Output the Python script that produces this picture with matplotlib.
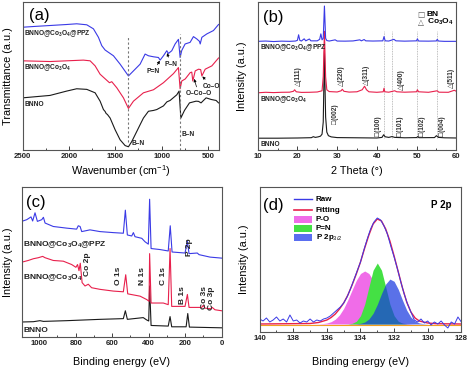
import matplotlib
matplotlib.use("Agg")
import matplotlib.pyplot as plt
from matplotlib.patches import Rectangle

plt.rcParams['font.family'] = ['Liberation Sans', 'DejaVu Sans']
plt.rcParams['mathtext.fontset'] = 'custom'
plt.rcParams['mathtext.rm'] = 'Liberation Sans'
plt.rcParams['mathtext.bf'] = 'Liberation Sans:bold'
plt.rcParams['mathtext.it'] = 'Liberation Sans:italic'

# ---------------- (a) FTIR ----------------
ir_blue_x = [2500, 2385, 2205, 2025, 1917, 1808, 1736, 1682, 1646, 1610, 1520, 1448, 1358, 1304, 1232,
             1178, 1142, 1088, 1034, 1016, 980, 944, 926, 890, 854, 818, 800, 782, 746, 692, 656,
             620, 591, 583, 565, 511, 440, 385]
ir_blue_y = [124, 124.7, 125.7, 126.7, 127.4, 126.4, 122.4, 114, 105.7, 101.4, 95.7, 87.4, 75.7, 80.7, 87.4,
             97.4, 95.7, 94.7, 94, 91.4, 95.7, 100.7, 98, 100.7, 107.4, 112, 94, 101, 107.4, 109, 114.7,
             112.4, 110, 107.4, 114, 117.4, 120.7, 126.7]
ir_red_x = [2500, 2205, 2025, 1845, 1772, 1718, 1664, 1592, 1563, 1538, 1484, 1412, 1358, 1304, 1196,
            1088, 980, 872, 818, 800, 782, 745, 691, 674, 663, 649, 637, 601, 578, 565, 529, 457, 385]
ir_red_y = [90.7, 90, 90.7, 91.4, 90.7, 85.7, 77.4, 71.4, 69, 70, 64, 54, 43.5, 50.7, 59,
            62, 69, 78, 84, 63, 70.7, 72.7, 79, 79.5, 70.7, 76, 80.7, 82.4, 82, 75.7, 82.4, 85.7, 93.5]
ir_black_x = [2500, 2205, 2025, 1917, 1808, 1718, 1664, 1628, 1610, 1599, 1585, 1556, 1502, 1448, 1394,
              1358, 1322, 1268, 1232, 1196, 1142, 1088, 1052, 980, 943, 908, 836, 811, 792, 753,
              699, 628, 601, 574, 519, 465, 411, 385]
ir_black_y = [54, 56.4, 60.7, 63, 62.4, 59, 50.7, 42.4, 40.5, 38.5, 37.5, 34, 22.4, 12.4, 6.7,
              5.5, 10.7, 20.7, 27.4, 34, 40.7, 41.5, 42.4, 46, 50, 51.4, 57, 60.7, 34, 41.5,
              49, 50.7, 50.5, 49, 54, 52.4, 51.4, 49]
ir_lines = [1358, 800]

# ---------------- (b) XRD ----------------
xrd_blue_x = [10, 12, 14, 16, 18, 19.5, 20.0, 20.3, 20.6, 21.0, 21.7, 22.1, 23.0, 23.4, 25.0, 25.6, 25.9,
              26.2, 26.5, 26.8, 27.1, 27.4, 28, 29.5, 30, 32, 34, 35.7, 36.1, 36.8, 37.2, 39, 41.5, 41.8,
              42.1, 43, 44.3, 44.8, 47, 50.0, 50.2, 50.5, 53, 55.0, 55.2, 55.5, 57, 60]
xrd_blue_y = [110, 110.3, 109.8, 110.2, 110, 110.3, 111, 116.5, 111, 110.3, 112.5, 110.5, 112.3, 110.5, 110.5, 112, 117.4,
              111.5, 113, 145, 113, 110.8, 110.3, 111.5, 110.3, 110.2, 110.4, 111.5, 110.5, 111.8, 110.5, 110.3, 110.5, 114.7,
              110.5, 110.3, 112, 110.5, 110.2, 110.5, 112.5, 110.3, 110.2, 110.4, 112, 110.3, 110, 110]
xrd_red_x = [10, 12, 14, 16, 18, 19.0, 19.3, 19.7, 21, 23, 25, 26.2, 26.5, 26.8, 27.1, 27.4, 28, 30, 31.0,
             31.3, 31.7, 33, 35, 36.3, 36.9, 37.4, 38, 40, 41.6, 41.8, 42.0, 43, 44.5, 45, 47, 50.0, 50.2,
             50.5, 53, 55.2, 55.6, 58, 59.5, 60]
xrd_red_y = [59, 59.5, 59.2, 59.5, 59.6, 60.5, 62, 60, 59.4, 59.5, 59.8, 61, 75, 120, 75, 62, 60.2, 59.8, 61,
             62.5, 60.5, 59.7, 60, 62, 65.5, 62, 60, 59.5, 60, 63.5, 60, 59.6, 61, 60, 59.6, 60, 62,
             60, 59.5, 61, 59.6, 59.5, 61.5, 60.5]
xrd_black_x = [10, 15, 20, 23.5, 24.0, 24.5, 25.2, 25.8, 26.2, 26.5, 26.65, 26.8, 26.95, 27.1, 27.4, 27.8,
               28.5, 30, 35, 40, 41.3, 41.7, 42.1, 43.0, 43.8, 44.5, 47, 50.0, 50.3, 50.6, 54.5, 55.0, 55.5, 57, 60]
xrd_black_y = [14, 14, 14.2, 14.5, 15.5, 14.8, 15.3, 16, 18, 30, 65, 100, 65, 35, 20, 16.5,
               15.3, 14.6, 14.4, 14.2, 14.8, 17.4, 15.4, 14.8, 15.6, 14.8, 14.4, 14.6, 15.6, 14.5, 14.6, 16.5, 14.8, 14.4, 14.2]
xrd_lines = [41.8, 43.9, 50.2, 55.2]
co_labels = ['(111)', '(220)', '(311)', '(400)', '(511)']
co_pos = [20.3, 31.2, 37.5, 46.3, 58.7]
bn_labels = ['(002)', '(100)', '(101)', '(102)', '(004)']
bn_pos = [29.5, 40.5, 46.0, 51.5, 56.6]

# ---------------- (c) XPS survey ----------------
xps_blue_x = [1096, 1068, 1045, 1036, 1023, 1010, 986, 977, 968, 923, 850, 795, 786, 776, 767, 722, 667,
              594, 539, 528, 517, 493, 484, 475, 438, 420, 402, 395, 387, 338, 293, 282, 272, 201, 188,
              179, 134, 124, 64, 0]
xps_blue_y = [113.3, 115, 117.7, 113.7, 121.7, 113.3, 115, 117.3, 111.7, 108.3, 106.7, 105.7, 109, 108.3, 103.3, 105, 103.3,
              102.3, 101.7, 124.3, 100, 99, 102.3, 98.3, 96.7, 93.3, 91, 135, 86.7, 85.7, 84.3, 109, 83.3, 82.3, 94,
              81.7, 82.3, 80.7, 78.3, 77.3]
xps_red_x = [1096, 1060, 1032, 1005, 981, 968, 923, 868, 822, 799, 790, 782, 775, 765, 749, 731, 713, 667,
             594, 539, 526, 515, 447, 411, 398, 395, 387, 320, 293, 283, 274, 201, 188, 179, 110, 101, 92,
             61, 52, 37, 0]
xps_red_y = [73.3, 75, 76.7, 77.7, 79, 77.7, 75, 74.3, 71, 68.3, 71, 65, 72.3, 53.3, 50, 51.7, 48.3, 46.7,
             45, 44.3, 61, 42.3, 40, 36.7, 35, 81.7, 33.3, 33.3, 31.7, 86.7, 30, 30, 41.7, 29, 29, 31, 28.3,
             27.7, 29, 26.7, 25.7]
xps_black_x = [1096, 1032, 996, 977, 850, 667, 539, 528, 517, 430, 411, 400, 395, 387, 293, 283, 274, 195,
               186, 177, 0]
xps_black_y = [14.7, 15, 16, 15.3, 16, 17.3, 18, 25.7, 17.3, 19, 16.7, 15.7, 50, 11.3, 10.7, 20, 10, 10,
               23, 9.7, 9]
xps_peak_names = ['Co 2p', 'O 1s', 'N 1s', 'C 1s', 'P 2p', 'B 1s', 'Co 3s', 'Co 3p']
xps_peak_x = [736, 567, 435, 320, 174, 214, 92, 55]
xps_peak_y = [71, 60, 60, 60, 88.3, 41, 38.3, 37.7]

# ---------------- (d) P 2p ----------------
raw_x = [140.0, 139.8, 139.6, 139.4, 139.2, 139.0, 138.8, 138.6, 138.4, 138.2, 138.0, 137.8, 137.6, 137.4,
         137.2, 137.0, 136.8, 136.6, 136.4, 136.2, 136.0, 135.8, 135.6, 135.4, 135.2, 135.0, 134.8, 134.6,
         134.4, 134.2, 134.0, 133.8, 133.6, 133.4, 133.2, 133.0, 132.8, 132.6, 132.4, 132.2, 132.0, 131.8,
         131.6, 131.4, 131.2, 131.0, 130.8, 130.6, 130.4, 130.2, 130.0, 129.8, 129.6, 129.4, 129.2, 129.0,
         128.8, 128.6, 128.4, 128.2, 128.0]
raw_y = [5, 3, 6, 2, 4, 7, 3, 5, 2, 9, 3, 4, 1, 3,
         2, 5, 2, 4, 3, 5, 6, 8, 11, 14, 17, 21, 27, 35,
         44, 53, 62, 74, 85, 95, 102, 106, 104, 98, 90, 78, 67, 55,
         42, 30, 20, 12, 4, 2, 5, 1, 3, -1, 2, 0, 3, -1,
         -4, 2, 0, 7, 2]
fit_x = [140.0, 137.0, 136.5, 136.0, 135.75, 135.5, 135.25, 135.0, 134.75, 134.5, 134.25, 134.0, 133.75,
         133.5, 133.25, 133.0, 132.75, 132.5, 132.25, 132.0, 131.75, 131.5, 131.25, 131.0, 130.75, 130.5,
         130.0, 129.5, 128.0]
fit_y = [0, 0.5, 1.5, 4, 6.5, 10, 15, 21, 29, 39, 50, 62, 76,
         89, 100, 105, 103, 95, 83, 68, 52, 36, 22, 12, 6, 3,
         1, 0.3, 0]
comp_x = [137.0, 136.5, 136.25, 136.0, 135.75, 135.5, 135.25, 135.0, 134.75, 134.5, 134.25, 134.0, 133.75,
          133.5, 133.25, 133.0, 132.75, 132.5, 132.25, 132.0, 131.75, 131.5, 131.25, 131.0, 130.75, 130.5,
          130.25, 130.0]
po_y = [0, 0.15, 0.4, 1.0, 2.3, 4.8, 9.1, 15.6, 24.3, 34.1, 43.6, 50.5, 53,
        50.5, 43.6, 34.1, 24.3, 15.6, 9.1, 4.8, 2.3, 1.0, 0.4, 0.15, 0, 0,
        0, 0]
pn_y = [0, 0, 0, 0, 0, 0, 0, 0.02, 0.13, 0.68, 2.7, 8.3, 19.8,
        37, 53.8, 61, 53.8, 37, 19.8, 8.3, 2.7, 0.68, 0.13, 0, 0, 0,
        0, 0]
p2p_y = [0, 0, 0, 0, 0, 0, 0, 0, 0, 0.05, 0.2, 0.67, 2.0,
         5.0, 10.7, 19.6, 30.4, 40.0, 44.9, 42.7, 34.6, 23.8, 13.9, 6.9, 2.9, 1.05,
         0.32, 0.08]

BLUE = '#3a3ae6'
RED = '#e8204c'
BLACK = '#1a1a1a'
W, H = 474, 371
fig = plt.figure(figsize=(W / 100, H / 100), dpi=100)


def ax_at(l, t, r, b):
    return fig.add_axes([l / W, 1 - b / H, (r - l) / W, (b - t) / H])


def style(ax, xl, yl, xlab_y, ylab_x, l, t, r, b):
    ax.set_yticks([])
    for s in ax.spines.values():
        s.set_linewidth(0.8)
        s.set_color('#555555')
    ax.tick_params(axis='x', which='major', direction='in', length=3, width=0.6, pad=2.5,
                   labelsize=5.6, colors='#222222')
    ax.tick_params(axis='x', which='minor', direction='in', length=1.5, width=0.5)
    for lab in ax.get_xticklabels():
        lab.set_fontweight('bold')
    ax.set_xlabel(xl, fontsize=7.8)
    ax.set_ylabel(yl, fontsize=7.8)
    ax.xaxis.set_label_coords(0.5, (b - xlab_y) / (b - t))
    ax.xaxis.label.set_va('center')
    ax.yaxis.set_label_coords((ylab_x - l) / (r - l), 0.5)
    ax.yaxis.label.set_va('center')


small = dict(fontsize=4.8, fontweight='bold', color='#222222')

# ---- (a)
ax = ax_at(22.7, 2, 219, 150)
ax.plot(ir_black_x, ir_black_y, color=BLACK, lw=0.8)
ax.plot(ir_red_x, ir_red_y, color=RED, lw=0.8)
ax.plot(ir_blue_x, ir_blue_y, color=BLUE, lw=0.8)
ax.plot([ir_lines[0]] * 2, [10, 115], color='#777777', lw=0.8, ls=(0, (2, 2)))
ax.plot([ir_lines[1]] * 2, [2.3, 117], color='#777777', lw=0.8, ls=(0, (2, 2)))
ax.set_xlim(2500, 380)
ax.set_ylim(2.3, 149)
ax.set_xticks([2500, 2000, 1500, 1000, 500])
ax.set_xticks([2250, 1750, 1250, 750], minor=True)
ax.text(2485, 117.7, r'BNNO@Co$_\mathbf{3}$O$_\mathbf{4}$@PPZ', ha='left', va='center', **small)
ax.text(2485, 84, r'BNNO@Co$_\mathbf{3}$O$_\mathbf{4}$', ha='left', va='center', **small)
ax.text(2485, 47.7, 'BNNO', ha='left', va='center', **small)
arr = dict(arrowstyle='-|>', lw=0.5, color='k', mutation_scale=4, shrinkA=0.5, shrinkB=0.5)
ax.annotate('P=N', xy=(1016, 91.4), xytext=(1088, 80), ha='center', va='center', arrowprops=arr, **small)
ax.annotate('P–N', xy=(943, 99), xytext=(900, 87.4), ha='center', va='center', arrowprops=arr, **small)
ax.annotate('O–Co–O', xy=(650, 73.4), xytext=(601, 58), ha='center', va='center', arrowprops=arr, **small)
ax.annotate('Co–O', xy=(565, 75.7), xytext=(457, 65.7), ha='center', va='center', arrowprops=arr, **small)
ax.text(1250, 9, 'B–N', ha='center', va='center', **small)
ax.text(710, 17.4, 'B–N', ha='center', va='center', **small)
ax.text(2320, 135.7, '(a)', fontsize=12, ha='center', va='center')
style(ax, r'Wavenumber (cm$^{-1}$)', 'Transmittance (a.u.)', 171, 8, 22.7, 2, 219, 150)

# ---- (b)
ax = ax_at(257.7, 2, 456.3, 150)
for xv in xrd_lines:
    ax.plot([xv, xv], [14, 120], color='#aaaaaa', lw=0.6, ls=(0, (1, 1)))
ax.plot(xrd_black_x, xrd_black_y, color=BLACK, lw=0.8)
ax.plot(xrd_red_x, xrd_red_y, color=RED, lw=0.8)
ax.plot(xrd_blue_x, xrd_blue_y, color=BLUE, lw=0.8)
ax.set_xlim(10, 60)
ax.set_ylim(2.3, 149)
ax.set_xticks([10, 20, 30, 40, 50, 60])
ax.set_xticks([15, 25, 35, 45, 55], minor=True)
ax.text(10.6, 104, r'BNNO@Co$_\mathbf{3}$O$_\mathbf{4}$@PPZ', ha='left', va='center', **small)
ax.text(10.6, 52, r'BNNO@Co$_\mathbf{3}$O$_\mathbf{4}$', ha='left', va='center', **small)
ax.text(10.6, 8, 'BNNO', ha='left', va='center', **small)
co_h = [75.7, 75.7, 77, 72, 74]
for lab, xp, hp in zip(co_labels, co_pos, co_h):
    ax.text(xp, hp, '△' + lab, rotation=90, ha='center', va='center', fontsize=4.8,
            fontweight='bold', color='#333333', family=['Liberation Sans', 'DejaVu Sans'])
bn_h = [38, 26, 26, 26, 26]
for lab, xp, hp in zip(bn_labels, bn_pos, bn_h):
    ax.text(xp, hp, '□' + lab, rotation=90, ha='center', va='center', fontsize=4.8,
            fontweight='bold', color='#333333', family=['Liberation Sans', 'DejaVu Sans'])
ax.text(51.2, 136.7, '□', ha='center', va='center', fontsize=5.5, color='#555555', family=['DejaVu Sans'])
ax.text(52.6, 136.7, 'BN', ha='left', va='center', fontsize=6, fontweight='bold')
ax.text(51.2, 129, '△', ha='center', va='center', fontsize=5.5, color='#555555', family=['DejaVu Sans'])
ax.text(52.6, 129, r'Co$_\mathbf{3}$O$_\mathbf{4}$', ha='left', va='center', fontsize=6, fontweight='bold')
ax.text(14, 134, '(b)', fontsize=12, ha='center', va='center')
style(ax, '2 Theta (°)', 'Intensity (a.u.)', 171, 242, 257.7, 2, 456.3, 150)

# ---- (c)
ax = ax_at(21.7, 187, 221.7, 337)
ax.plot(xps_black_x, xps_black_y, color=BLACK, lw=0.8)
ax.plot(xps_red_x, xps_red_y, color=RED, lw=0.8)
ax.plot(xps_blue_x, xps_blue_y, color=BLUE, lw=0.8)
ax.set_xlim(1096, 0)
ax.set_ylim(0, 147)
ax.set_xticks([1000, 800, 600, 400, 200, 0])
ax.set_xticks([900, 700, 500, 300, 100], minor=True)
mid = dict(fontsize=6, fontweight='bold', color='#222222')
ax.text(1087, 90.7, r'BNNO@Co$_\mathbf{3}$O$_\mathbf{4}$@PPZ', ha='left', va='center', **mid)
ax.text(1087, 58.3, r'BNNO@Co$_\mathbf{3}$O$_\mathbf{4}$', ha='left', va='center', **mid)
ax.text(1087, 6, 'BNNO', ha='left', va='center', **mid)
for lab, xp, yp in zip(xps_peak_names, xps_peak_x, xps_peak_y):
    ax.text(xp, yp, lab, rotation=90, ha='center', va='center', **mid)
ax.text(1017, 132, '(c)', fontsize=12, ha='center', va='center')
style(ax, 'Binding energy (eV)', 'Intensity (a.u.)', 362, 8, 21.7, 187, 221.7, 337)

# ---- (d)
L, T, R, B = 259.7, 187, 461.3, 332
ax = ax_at(L, T, R, B)
ax.fill_between(comp_x, 0, po_y, color='#f06ce8', lw=0)
ax.fill_between(comp_x, 0, pn_y, color='#44e044', lw=0)
ax.fill_between(comp_x, 0, p2p_y, color='#1a3ae0', alpha=0.72, lw=0)
ax.plot([140, 128], [-0.5, -0.5], color='#f0a020', lw=0.8)
ax.plot(fit_x, fit_y, color=RED, lw=1.0)
ax.plot(raw_x, raw_y, color=BLUE, lw=0.7)
ax.set_xlim(140, 128)
ax.set_ylim(-8, 137)
ax.set_xticks([140, 138, 136, 134, 132, 130, 128])
ax.set_xticks([139, 137, 135, 133, 131, 129], minor=True)


def fx(px):
    return (px - L) / (R - L)


def fy(py):
    return (B - py) / (B - T)


leg = dict(fontsize=5.8, fontweight='bold', va='center', ha='left', transform=ax.transAxes)
ax.plot([fx(293.7), fx(312)], [fy(199)] * 2, color=BLUE, lw=1.0, transform=ax.transAxes)
ax.text(fx(315.5), fy(199), 'Raw', **leg)
ax.plot([fx(293.7), fx(312)], [fy(210)] * 2, color=RED, lw=1.2, transform=ax.transAxes)
ax.text(fx(315.5), fy(210), 'Fitting', **leg)
for py, col, lab in [(219.5, '#f06ce8', 'P-O'), (228.5, '#44e044', 'P=N'), (237.5, '#5a6ef0', r'P 2p$_{3/2}$')]:
    ax.add_patch(Rectangle((fx(293.7), fy(py + 3.5)), fx(312) - fx(293.7), fy(py - 3.5) - fy(py + 3.5),
                           transform=ax.transAxes, color=col, lw=0))
    ax.text(fx(315.5), fy(py), lab, **leg)
ax.text(fx(441), fy(205), 'P 2p', fontsize=7, fontweight='bold', ha='center', va='center', transform=ax.transAxes)
ax.text(fx(273.7), fy(205), '(d)', fontsize=12, ha='center', va='center', transform=ax.transAxes)
style(ax, 'Binding energy (eV)', 'Intensity (a.u.)', 362, 244, L, T, R, B)

fig.savefig('out.png', dpi=100)
